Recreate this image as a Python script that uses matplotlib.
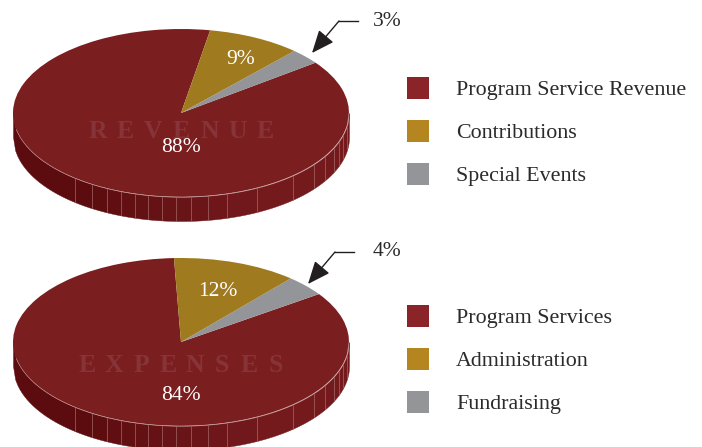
import numpy as np
import matplotlib
matplotlib.use("Agg")
import matplotlib.pyplot as plt
from matplotlib.patches import Rectangle

plt.rcParams["font.family"] = ["Liberation Serif", "DejaVu Serif"]

# revenue, order is legend order
rev_labels = ["Program Service Revenue", "Contributions", "Special Events"]
rev_values = [88, 9, 3]
rev_start = 80

# expenses
exp_labels = ["Program Services", "Administration", "Fundraising"]
exp_values = [84, 12, 4]
exp_start = 92.4

pie_colors = ["#7b1e20", "#9f7a1e", "#939598"]
key_colors = ["#8a2428", "#b58620", "#939598"]
text_dark = "#2b2a2c"

# pixel x of the seams on the rim of the pies
seams = [75, 92, 107, 121, 135, 148, 162, 176, 191, 208, 227, 257, 293, 314, 325, 334, 339, 343, 347]

W, H = 702, 447
fig = plt.figure(figsize=(W / 100, H / 100), dpi=100)

# overlay in pixel coords for text, keys and arrows
over = fig.add_axes([0, 0, 1, 1], zorder=5)
over.set_xlim(0, W)
over.set_ylim(H, 0)
over.axis("off")


def draw_pie(values, start, top):
    # axes box is the top ellipse, 336 x 168 px
    ax = fig.add_axes([13 / W, 1 - (top + 168) / H, 336 / W, 168 / H], zorder=2)
    order = [0, 2, 1]
    ax.pie([values[i] for i in order], colors=[pie_colors[i] for i in order],
           startangle=start, radius=1, wedgeprops={"linewidth": 0, "zorder": 3})
    ax.set_aspect("auto")
    ax.set_xlim(-1, 1)
    ax.set_ylim(-1, 1)
    ax.axis("off")

    depth = 24 / 84
    edges = [13] + seams + [349]
    for i in range(len(edges) - 1):
        x0 = (edges[i] - 181) / 168
        x1 = (edges[i + 1] - 181) / 168
        xs = np.linspace(x0, x1, 30)
        ys = -np.sqrt(np.clip(1 - xs ** 2, 0, 1))
        f = np.clip((edges[i] - 75) / 180, 0, 1)
        col = np.array([0x5c, 0x0c, 0x0e]) * (1 - f) + np.array([0x74, 0x1a, 0x1d]) * f
        ax.fill_between(xs, ys - depth, ys, color=col / 255, lw=0.3, zorder=1, clip_on=False)
    for s in seams:
        x = (s - 181) / 168
        y = -np.sqrt(1 - x ** 2)
        ax.plot([x, x], [y, y - depth], color="#a86f6e", lw=0.4, zorder=2, clip_on=False)
    xs = np.linspace(-0.98, 1, 200)
    ax.plot(xs, -np.sqrt(1 - xs ** 2), color="#c9a3a0", lw=0.4, zorder=4, clip_on=False)


draw_pie(rev_values, rev_start, 29)
draw_pie(exp_values, exp_start, 258)


# spaced out title letters, faint on the red
def faint_word(word, y, spacing):
    x0 = 181.5 - spacing * (len(word) - 1) / 2
    for i, ch in enumerate(word):
        over.text(x0 + i * spacing, y, ch, color="#873438", fontsize=18.5,
                  ha="center", va="center", fontweight="bold")


faint_word("REVENUE", 131, 28)
faint_word("EXPENSES", 365, 27)

# percent labels
pct = dict(color="white", fontsize=15.5, ha="center", va="center")
over.text(241, 60, f"{rev_values[1]}%", **pct)
over.text(181, 147, f"{rev_values[0]}%", **pct)
over.text(218, 291, f"{exp_values[1]}%", **pct)
over.text(181, 395, f"{exp_values[0]}%", **pct)

# call-outs
out = dict(color=text_dark, fontsize=15.5, ha="left", va="center")
over.text(373, 21, f"{rev_values[2]}%", **out)
over.text(373, 251, f"{exp_values[2]}%", **out)
arrow = dict(arrowstyle="-|>,head_length=1.0,head_width=0.42", mutation_scale=14,
             color="#231f20", lw=1.0, shrinkA=0, shrinkB=0)
over.plot([358, 339], [21, 21], color="#231f20", lw=1.0)
over.annotate("", xy=(312, 53), xytext=(339, 21), arrowprops=arrow)
over.plot([354, 335], [252, 252], color="#231f20", lw=1.0)
over.annotate("", xy=(308, 284), xytext=(335, 252), arrowprops=arrow)

# keys
for labels, ys, ty in ((rev_labels, [88, 131, 174], [91, 134, 177]), (exp_labels, [316, 359, 402], [319, 362, 405])):
    for lab, y, t, c in zip(labels, ys, ty, key_colors):
        over.add_patch(Rectangle((407, y - 11), 22, 22, facecolor=c, edgecolor="none"))
        over.text(456, t, lab, color=text_dark, fontsize=15.85, ha="left", va="center")

fig.savefig("out.png", dpi=100)
